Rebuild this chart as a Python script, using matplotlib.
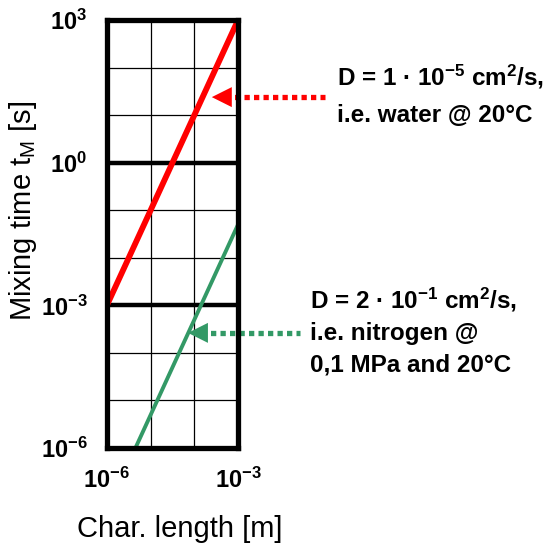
import matplotlib
matplotlib.use("Agg")
import matplotlib.pyplot as plt

plt.rcParams['font.family'] = ['Liberation Sans', 'DejaVu Sans']
plt.rcParams['mathtext.default'] = 'regular'

# data: mixing time t = L^2 / D
length_water = [1e-6, 1e-3]
time_water = [1e-3, 1e3]
length_nitrogen = [4.5e-6, 1e-3]
time_nitrogen = [1e-6, 5e-2]

x_ticks = [1e-6, 1e-5, 1e-4, 1e-3]
x_labels = [r'10$^{-6}$', '', '', r'10$^{-3}$']
y_ticks = [1e-6, 1e-5, 1e-4, 1e-3, 1e-2, 1e-1, 1e0, 1e1, 1e2, 1e3]
y_labels = [r'10$^{-6}$', '', '', r'10$^{-3}$', '', '', r'10$^{0}$', '', '', r'10$^{3}$']
thick_lines = [1e0, 1e-3]

water_text = [r'D = 1 · 10$^{-5}$ cm$^{2}$/s,', 'i.e. water @ 20°C']
nitrogen_text = [r'D = 2 · 10$^{-1}$ cm$^{2}$/s,', 'i.e. nitrogen @', '0,1 MPa and 20°C']

red = '#ff0000'
green = '#339966'

fig = plt.figure(figsize=(5.51, 5.43), dpi=100)
ax = fig.add_axes([0.194, 0.175, 0.238, 0.788])
ax.set_xscale('log')
ax.set_yscale('log')
ax.set_xlim(1e-6, 1e-3)
ax.set_ylim(1e-6, 1e3)

ax.set_xticks(x_ticks)
ax.set_xticklabels(x_labels, fontsize=17, fontweight='bold')
ax.set_yticks(y_ticks)
ax.set_yticklabels(y_labels, fontsize=17, fontweight='bold')
ax.minorticks_off()
ax.tick_params(length=0, pad=14)
ax.grid(True, color='k', lw=0.9)
for y in thick_lines:
    ax.axhline(y, color='k', lw=3.2)
for s in ax.spines.values():
    s.set_linewidth(3.8)

ax.plot(length_water, time_water, color=red, lw=4.2, solid_capstyle='butt')
ax.plot(length_nitrogen, time_nitrogen, color=green, lw=2.8, solid_capstyle='butt')

# dotted arrows pointing at the lines
def dotted_arrow(x_tip, x_tail, y, color):
    ax.plot([x_tip + 0.1, x_tail], [y, y], transform=ax.transAxes, color=color,
            lw=3.8, ls=(0, (1, 0.8)), dash_capstyle='butt', clip_on=False)
    ax.annotate('', xy=(x_tip, y), xytext=(x_tip + 0.12, y),
                xycoords='axes fraction', textcoords='axes fraction',
                arrowprops=dict(arrowstyle='-|>,head_length=0.8,head_width=0.4',
                                color=color, lw=0, mutation_scale=18,
                                shrinkA=0, shrinkB=0))

dotted_arrow(0.80, 1.664, 0.820, red)
dotted_arrow(0.618, 1.473, 0.269, green)

for txt, yy in zip(water_text, [0.848, 0.762]):
    ax.text(1.756, yy, txt, transform=ax.transAxes, fontsize=17.5,
            fontweight='bold', va='baseline', ha='left')
for txt, yy in zip(nitrogen_text, [0.327, 0.252, 0.178]):
    ax.text(1.55, yy, txt, transform=ax.transAxes, fontsize=17.5,
            fontweight='bold', va='baseline', ha='left')

fig.text(180 / 551, 1 - 537 / 543, 'Char. length [m]', fontsize=21,
         ha='center', va='baseline')
fig.text(23 / 551, 1 - 211 / 543, 'Mixing time t$_M$ [s]', fontsize=21,
         rotation=90, ha='center', va='center')

fig.savefig('out.png', dpi=100)
